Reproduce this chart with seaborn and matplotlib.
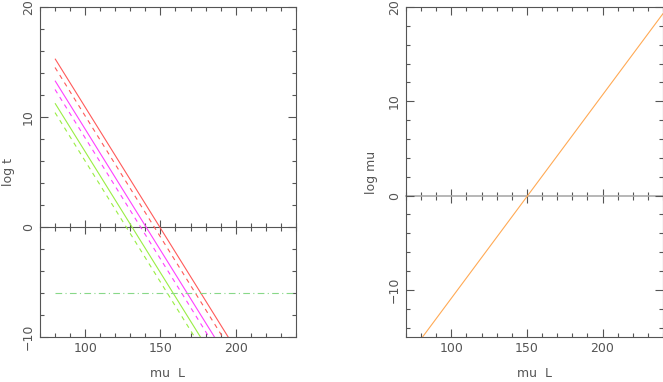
import numpy as np
import pandas as pd
import matplotlib
matplotlib.use('Agg')
import matplotlib.pyplot as plt
from matplotlib.ticker import MultipleLocator
import seaborn as sns

# data
mu_L = [80, 200]
log_t_red = [15.3, -11.1]
log_t_red_dash = [14.5, -11.9]
log_t_mag = [13.3, -13.1]
log_t_mag_dash = [12.5, -13.9]
log_t_grn = [11.25, -15.15]
log_t_grn_dash = [10.4, -16.0]
limit_x = [80, 240]
limit_y = [-6, -6]

mu_L_right = [80, 240]
log_mu = [-15.2, 19.3]

sns.set_theme(style='white')
plt.rcParams['font.family'] = ['DejaVu Sans']

grey = '#555555'
fig = plt.figure(figsize=(6.63, 3.82), dpi=100)
axL = fig.add_axes([0.0603, 0.1178, 0.386, 0.8639])
axR = fig.add_axes([0.6124, 0.1178, 0.3876, 0.8639])

#Left panel
series = [(log_t_red, '#ff5a5a', (0, ())), (log_t_red_dash, '#ff5a5a', (0, (4, 4))),
          (log_t_mag, '#ff40ff', (0, ())), (log_t_mag_dash, '#ff40ff', (0, (4, 4))),
          (log_t_grn, '#99ee44', (0, ())), (log_t_grn_dash, '#99ee44', (0, (4, 4)))]
for ys, c, ls in series:
    df = pd.DataFrame({'x': mu_L, 'y': ys})
    sns.lineplot(data=df, x='x', y='y', ax=axL, color=c, lw=0.8, linestyle=ls)
df = pd.DataFrame({'x': limit_x, 'y': limit_y})
sns.lineplot(data=df, x='x', y='y', ax=axL, color='#88d888', lw=0.8, linestyle=(0, (6, 3, 1, 3)))
axL.set_xlim(70, 240)
axL.set_ylim(-10, 20)
axL.set_ylabel('log t', color=grey, fontsize=9, labelpad=5)

#Right panel
df = pd.DataFrame({'x': mu_L_right, 'y': log_mu})
sns.lineplot(data=df, x='x', y='y', ax=axR, color='#ffaa55', lw=0.8)
axR.set_xlim(70, 240)
axR.set_ylim(-15, 20)
axR.set_ylabel('log mu', color=grey, fontsize=9, labelpad=7)

for ax, ymin, ymax, zc in [(axL, -10, 20, '#555555'), (axR, -15, 20, '#aaaaaa')]:
    ax.set_xlabel('mu  L', color=grey, fontsize=9, labelpad=9)
    ax.xaxis.set_major_locator(MultipleLocator(50))
    ax.xaxis.set_minor_locator(MultipleLocator(10))
    ax.yaxis.set_major_locator(MultipleLocator(10))
    ax.yaxis.set_minor_locator(MultipleLocator(2))
    ax.tick_params(which='both', direction='in', top=True, right=True, bottom=True, left=True,
                   colors=grey, labelsize=9)
    ax.tick_params(which='major', length=6, width=0.8)
    ax.tick_params(which='minor', length=3, width=0.8)
    ax.tick_params(axis='y', labelrotation=90)
    for s in ax.spines.values():
        s.set_color(grey)
        s.set_linewidth(0.8)
    # zero axis with ticks both ways
    zero = ax.secondary_xaxis((0 - ymin) / (ymax - ymin))
    zero.spines['bottom'].set_color(zc)
    zero.spines['bottom'].set_linewidth(1.2 if zc == '#aaaaaa' else 0.8)
    zero.xaxis.set_major_locator(MultipleLocator(50))
    zero.xaxis.set_minor_locator(MultipleLocator(10))
    zero.tick_params(which='both', direction='inout', colors=grey, labelbottom=False)
    zero.tick_params(which='major', length=10, width=0.8)
    zero.tick_params(which='minor', length=6, width=0.8)

for ax in (axL, axR):
    for lab in ax.get_yticklabels():
        lab.set_verticalalignment('center')

fig.savefig('out.png', dpi=100)
